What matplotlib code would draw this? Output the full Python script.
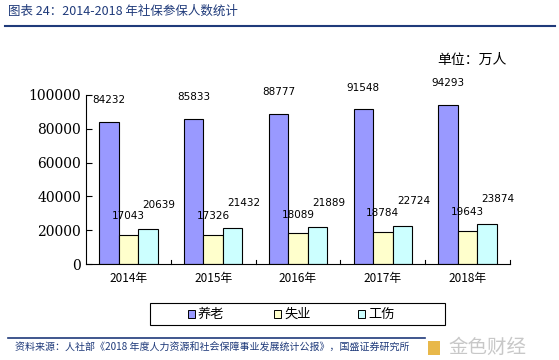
import numpy as np
import matplotlib.pyplot as plt
from matplotlib.patches import Rectangle
from matplotlib.lines import Line2D

plt.rcParams['font.family'] = ['Noto Sans CJK SC', 'DejaVu Sans']

# data (unit: 10k persons)
years = ['2014年', '2015年', '2016年', '2017年', '2018年']
pension = [84232, 85833, 88777, 91548, 94293]
unemployment = [17043, 17326, 18089, 18784, 19643]
injury = [20639, 21432, 21889, 22724, 23874]
series_names = ['养老', '失业', '工伤']
colors = ['#9999FF', '#FFFFCC', '#CCFFFF']
yticks = [0, 20000, 40000, 60000, 80000, 100000]

W, H = 559, 360
fig = plt.figure(figsize=(W / 100, H / 100), dpi=100)
fig.patch.set_facecolor('white')

ax = fig.add_axes([86 / W, 1 - 264 / H, (510 - 86) / W, (264 - 95) / H])

x = np.arange(len(years))
bw = 0.23
label_dx = [0, 0, 8]
label_dy = [12, 10, 14]
for i, vals in enumerate([pension, unemployment, injury]):
    pos = x + (i - 1) * bw
    ax.bar(pos, vals, bw, color=colors[i], edgecolor='black', linewidth=0.8)
    for p, v in zip(pos, vals):
        ax.annotate(str(v), (p, v), xytext=(label_dx[i], label_dy[i]),
                    textcoords='offset points', ha='center', va='bottom',
                    fontsize=7.5, family='DejaVu Sans')

ax.set_xlim(-0.5, len(years) - 0.5)
ax.set_ylim(0, 100000)
ax.set_yticks(yticks)
ax.set_yticklabels([str(t) for t in yticks], family='DejaVu Serif', fontsize=10)
ax.set_xticks(x)
ax.set_xticklabels(years, fontsize=8.5)
ax.tick_params(axis='x', length=0, pad=6)
ax.tick_params(axis='y', direction='in', length=4, width=0.8)
# category separators
for k in range(1, len(years) + 1):
    ax.plot([k - 0.5, k - 0.5], [0, 2500], color='black', lw=0.8, clip_on=False)
for s in ['top', 'right']:
    ax.spines[s].set_visible(False)
ax.spines['left'].set_linewidth(0.8)
ax.spines['bottom'].set_linewidth(0.8)

# legend box
fig.add_artist(Rectangle((150 / W, 1 - 325 / H), 295 / W, 22 / H,
                         transform=fig.transFigure, fill=False,
                         edgecolor='black', lw=0.8))
leg_x = [192, 278, 362]
for lx, name, c in zip(leg_x, series_names, colors):
    fig.add_artist(Rectangle(((lx - 4) / W, 1 - 318 / H), 7 / W, 8 / H,
                             transform=fig.transFigure, facecolor=c,
                             edgecolor='black', lw=0.7))
    fig.text((lx + 6) / W, 1 - 314 / H, name, fontsize=9.5, va='center')

# title and header line
navy = '#1F3A7A'
fig.text(8 / W, 1 - 11 / H, '图表 24：2014-2018 年社保参保人数统计',
         fontsize=9, color=navy, style='italic', va='center')
fig.add_artist(Line2D([5 / W, 555 / W], [1 - 26 / H, 1 - 26 / H],
                      transform=fig.transFigure, color=navy, lw=1.5))
fig.text(437 / W, 1 - 60 / H, '单位：万人', fontsize=10, va='center')

# footer
fig.add_artist(Line2D([8 / W, 425 / W], [1 - 338 / H, 1 - 338 / H],
                      transform=fig.transFigure, color=navy, lw=1.2))
fig.text(15 / W, 1 - 348 / H,
         '资料来源：人社部《2018 年度人力资源和社会保障事业发展统计公报》，国盛证券研究所',
         fontsize=7.2, color=navy, style='italic', va='center')
fig.add_artist(Rectangle((428 / W, 1 - 355 / H), 12 / W, 14 / H,
                         transform=fig.transFigure, color='#E8B84A', lw=0))
fig.text(448 / W, 1 - 347 / H, '金色财经', fontsize=14, color='#C8C8C8', va='center')

plt.savefig('out.png', dpi=100)
